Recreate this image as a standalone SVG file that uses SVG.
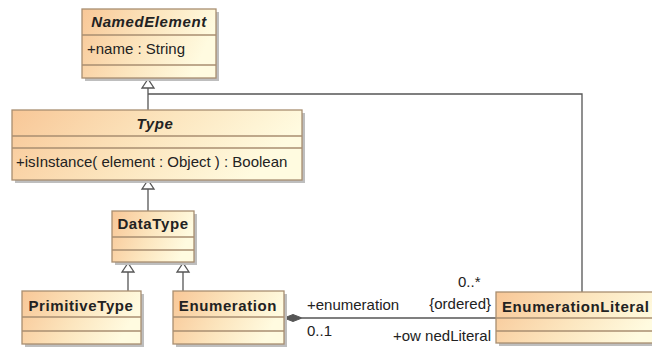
<svg xmlns="http://www.w3.org/2000/svg" width="652" height="347" viewBox="0 0 652 347">
  <defs>
    <linearGradient id="classFill" x1="0" y1="0" x2="1" y2="0.25">
      <stop offset="0" stop-color="#F8C797"/>
      <stop offset="0.55" stop-color="#FCE6BF"/>
      <stop offset="1" stop-color="#FFFBE0"/>
    </linearGradient>
  </defs>
  <style>
    .shadow { fill: #BEBEBE; }
    .box { fill: url(#classFill); stroke: #A88E70; stroke-width: 1.3; }
    .div { stroke: #A88E70; stroke-width: 1.3; fill: none; }
    .title { font-family: "Liberation Sans", Arial, sans-serif; font-size: 15px; font-weight: bold; fill: #222; letter-spacing: 0.6px; }
    .ital { font-style: italic; }
    .member { font-family: "Liberation Sans", Arial, sans-serif; font-size: 15px; fill: #222; }
    .label { font-family: "Liberation Sans", Arial, sans-serif; font-size: 15px; fill: #222; }
    .edge { stroke: #555; stroke-width: 1.3; fill: none; }
    .tri { fill: #FFFFFF; stroke: #555; stroke-width: 1.3; }
    .diamond { fill: #555; stroke: #555; stroke-width: 1; }
  </style>

  <!-- associations and generalizations -->
  <g id="connectors">
    <!-- Type -> NamedElement -->
    <line class="edge" x1="148" y1="110" x2="148" y2="88"/>
    <!-- EnumerationLiteral -> NamedElement -->
    <polyline class="edge" points="582,292 582,94 148,94"/>
    <polygon class="tri" points="148,79 142,88 154,88"/>
    <!-- DataType -> Type -->
    <line class="edge" x1="148" y1="211" x2="148" y2="189"/>
    <polygon class="tri" points="148,180 142,189 154,189"/>
    <!-- PrimitiveType -> DataType -->
    <line class="edge" x1="128" y1="291" x2="128" y2="272"/>
    <polygon class="tri" points="128,263 122,272 134,272"/>
    <!-- Enumeration -> DataType -->
    <line class="edge" x1="183" y1="291" x2="183" y2="272"/>
    <polygon class="tri" points="183,263 177,272 189,272"/>
    <!-- Enumeration <>- EnumerationLiteral -->
    <line class="edge" x1="302" y1="318" x2="496" y2="318"/>
    <polygon class="diamond" points="284,318 293,314.5 302,318 293,321.5"/>
    <text class="label" x="307" y="310">+enumeration</text>
    <text class="label" x="307" y="336">0..1</text>
    <text class="label" x="458" y="287">0..*</text>
    <text class="label" x="491" y="309" text-anchor="end">{ordered}</text>
    <text class="label" x="491" y="341" text-anchor="end">+ow nedLiteral</text>
  </g>

  <g id="NamedElement">
    <rect class="shadow" x="85" y="12" width="134" height="69"/>
    <rect class="box" x="82" y="9" width="134" height="69"/>
    <line class="div" x1="82" y1="35" x2="216" y2="35"/>
    <line class="div" x1="82" y1="65" x2="216" y2="65"/>
    <text class="title ital" x="149" y="27" text-anchor="middle">NamedElement</text>
    <text class="member" x="87" y="54">+name : String</text>
  </g>

  <g id="Type">
    <rect class="shadow" x="15" y="113" width="290" height="70"/>
    <rect class="box" x="12" y="110" width="290" height="70"/>
    <line class="div" x1="12" y1="136" x2="302" y2="136"/>
    <line class="div" x1="12" y1="148" x2="302" y2="148"/>
    <text class="title ital" x="155" y="129" text-anchor="middle">Type</text>
    <text class="member" x="16" y="167">+isInstance( element : Object ) : Boolean</text>
  </g>

  <g id="DataType">
    <rect class="shadow" x="115" y="214" width="82" height="51"/>
    <rect class="box" x="112" y="211" width="82" height="51"/>
    <line class="div" x1="112" y1="237" x2="194" y2="237"/>
    <line class="div" x1="112" y1="250" x2="194" y2="250"/>
    <text class="title" x="153" y="229" text-anchor="middle">DataType</text>
  </g>

  <g id="PrimitiveType">
    <rect class="shadow" x="25" y="294" width="119" height="53"/>
    <rect class="box" x="22" y="291" width="119" height="53"/>
    <line class="div" x1="22" y1="317" x2="141" y2="317"/>
    <line class="div" x1="22" y1="331" x2="141" y2="331"/>
    <text class="title" x="81" y="311" text-anchor="middle">PrimitiveType</text>
  </g>

  <g id="Enumeration">
    <rect class="shadow" x="176" y="294" width="111" height="53"/>
    <rect class="box" x="173" y="291" width="111" height="53"/>
    <line class="div" x1="173" y1="317" x2="284" y2="317"/>
    <line class="div" x1="173" y1="331" x2="284" y2="331"/>
    <text class="title" x="228" y="311" text-anchor="middle">Enumeration</text>
  </g>

  <g id="EnumerationLiteral">
    <rect class="shadow" x="499" y="295" width="170" height="51"/>
    <rect class="box" x="496" y="292" width="170" height="51"/>
    <line class="div" x1="496" y1="318" x2="666" y2="318"/>
    <line class="div" x1="496" y1="331" x2="666" y2="331"/>
    <text class="title" x="502" y="312">EnumerationLiteral</text>
  </g>
</svg>
